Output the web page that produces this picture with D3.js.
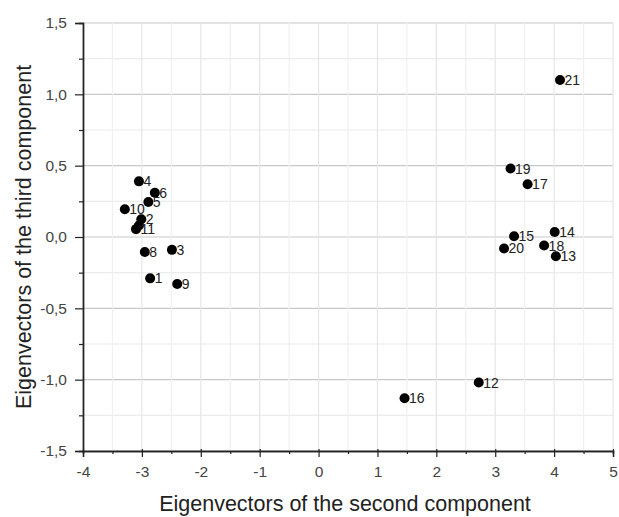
<!DOCTYPE html>
<html><head><meta charset="utf-8">
<script src="https://cdn.jsdelivr.net/npm/d3@7"></script>
<style>body{margin:0;background:#fff}svg{display:block}</style>
</head><body>
<script>
const labels = ["1","2","3","4","5","6","7","8","9","10","11","12","13","14","15","16","17","18","19","20","21"];
const xs = [-2.86,-3.01,-2.49,-3.05,-2.89,-2.78,-3.05,-2.95,-2.40,-3.29,-3.10,2.72,4.03,4.01,3.32,1.46,3.55,3.83,3.26,3.15,4.10];
const ys = [-0.29,0.125,-0.09,0.39,0.245,0.31,0.08,-0.105,-0.33,0.195,0.055,-1.02,-0.135,0.035,0.005,-1.13,0.37,-0.06,0.48,-0.08,1.10];
// label "7" is hidden under the 2/11 cluster in the original
const hiddenLabels = ["7"];
const xTicks = [-4,-3,-2,-1,0,1,2,3,4,5];
const yTicks = [-1.5,-1.0,-0.5,0.0,0.5,1.0,1.5];
const xTitle = "Eigenvectors of the second component";
const yTitle = "Eigenvectors of the third component";

const W=619,H=517, L=83, R=613, T=23, B=451;
const svg=d3.select("body").append("svg").attr("width",W).attr("height",H);
const x=d3.scaleLinear().domain([-4,5]).range([L,R]);
const y=d3.scaleLinear().domain([-1.5,1.5]).range([B,T]);
const font="Liberation Sans, Arial, sans-serif";

// grid
const g=svg.append("g");
d3.range(-1.5,1.51,0.25).forEach(v=>{
  const major=Math.abs(v*2-Math.round(v*2))<1e-6;
  g.append("line").attr("x1",L).attr("x2",R).attr("y1",y(v)).attr("y2",y(v))
   .attr("stroke",major?"#c8c8c8":"#ececec").attr("stroke-width",1.2);
});
d3.range(-4,5.01,0.5).forEach(v=>{
  const major=Math.abs(v-Math.round(v))<1e-6;
  g.append("line").attr("y1",T).attr("y2",B).attr("x1",x(v)).attr("x2",x(v))
   .attr("stroke",major?"#e6e6e6":"#f0f0f0").attr("stroke-width",1.2);
});

// axes
const fmt=d=>d3.format(".1f")(d).replace(".",",").replace("−","-");
const xa=svg.append("g").attr("transform",`translate(0,${B})`)
  .call(d3.axisBottom(x).tickValues(xTicks).tickFormat(d=>String(d)).tickSize(6).tickPadding(9));
const xm=svg.append("g").attr("transform",`translate(0,${B})`)
  .call(d3.axisBottom(x).tickValues(d3.range(-3.5,5,1)).tickFormat("").tickSize(3));
const ya=svg.append("g").attr("transform",`translate(${L},0)`)
  .call(d3.axisLeft(y).tickValues(yTicks).tickFormat(fmt).tickSize(8).tickPadding(8));
const ym=svg.append("g").attr("transform",`translate(${L},0)`)
  .call(d3.axisLeft(y).tickValues(d3.range(-1.25,1.5,0.5)).tickFormat("").tickSize(4));
[xa,xm,ya,ym].forEach(a=>{
  a.select(".domain").attr("stroke","#222").attr("stroke-width",1.4);
  a.selectAll(".tick line").attr("stroke","#222").attr("stroke-width",1.2);
  a.selectAll("text").attr("font-family",font).attr("font-size",15.5).attr("fill","#444");
});
// major x ticks cross slightly above the axis
xa.selectAll(".tick line").attr("y1",-2);

// points
const pts=svg.append("g");
labels.forEach((lab,i)=>{
  pts.append("circle").attr("cx",x(xs[i])).attr("cy",y(ys[i])).attr("r",5).attr("fill","#000");
});
labels.forEach((lab,i)=>{
  if(hiddenLabels.includes(lab)) return;
  pts.append("text").attr("x",x(xs[i])+4.5).attr("y",y(ys[i])+5)
   .attr("font-family",font).attr("font-size",14).attr("fill","#222").text(lab);
});

// titles
svg.append("text").attr("x",(L+R)/2 - 3).attr("y",511).attr("text-anchor","middle")
  .attr("font-family",font).attr("font-size",21.5).attr("fill","#222").text(xTitle);
svg.append("text").attr("transform",`translate(31,${(T+B)/2}) rotate(-90)`).attr("text-anchor","middle")
  .attr("font-family",font).attr("font-size",21.5).attr("fill","#222").text(yTitle);
</script>
</body></html>
